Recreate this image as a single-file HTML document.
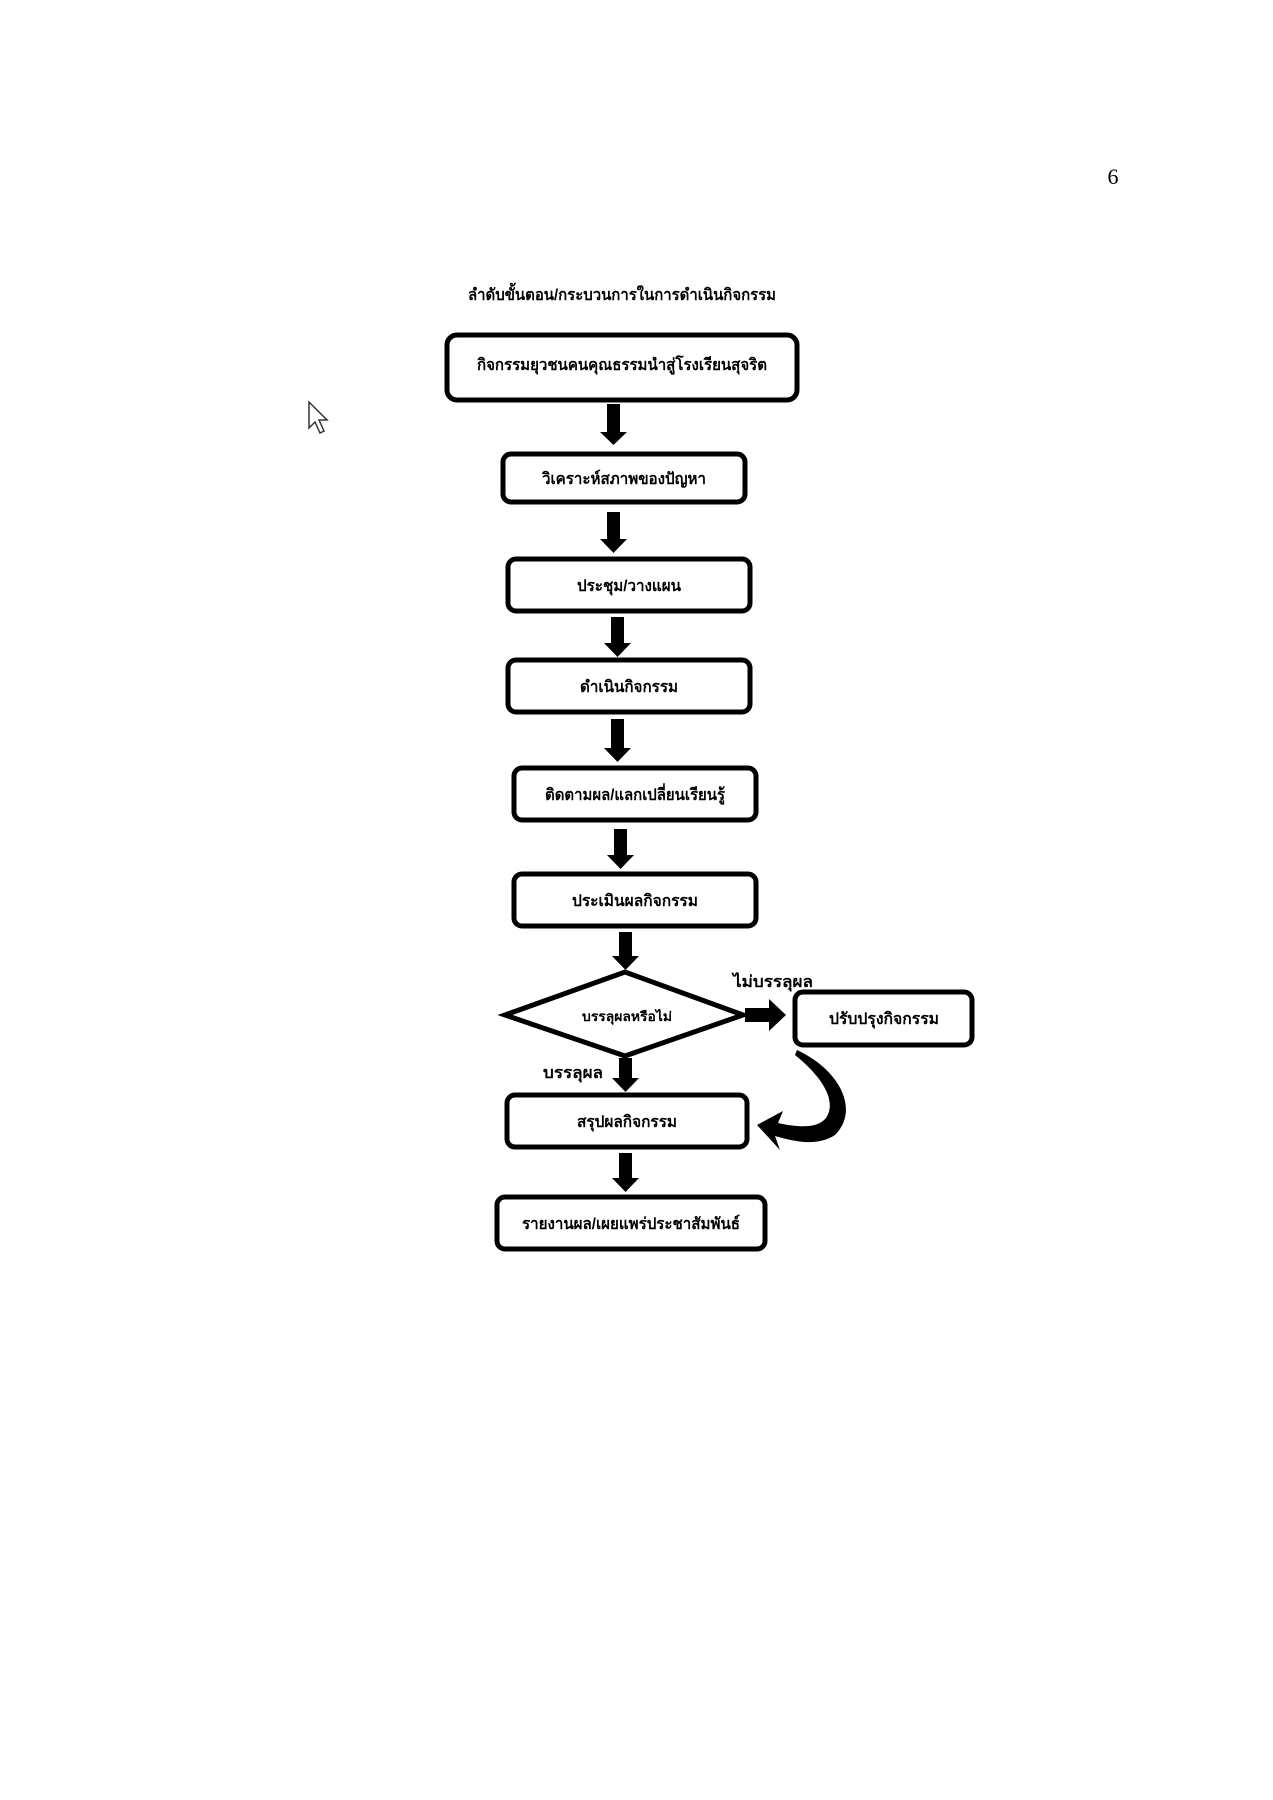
<!DOCTYPE html>
<html><head><meta charset="utf-8"><style>
html,body{margin:0;padding:0;background:#fff}
svg{display:block}
text{font-family:"Liberation Sans","DejaVu Sans",sans-serif;font-weight:bold;fill:#000}
</style></head><body>
<svg width="1273" height="1800" viewBox="0 0 1273 1800" xmlns="http://www.w3.org/2000/svg">
<text x="1113" y="184" font-size="22" text-anchor="middle" style="font-family:'Liberation Serif',serif;font-weight:normal">6</text>
<text x="622" y="300" font-size="16" text-anchor="middle" fill="#1a1a3a" textLength="308" lengthAdjust="spacingAndGlyphs">ลำดับขั้นตอน/กระบวนการในการดำเนินกิจกรรม</text>
<path d="M309,402 L309,428 L315,422 L320,433 L324,431 L319,420 L327,420 Z" fill="#fff" stroke="#333" stroke-width="1.5"/>
<g fill="#fff" stroke="#000" stroke-width="5">
<rect x="447" y="335" width="350" height="65" rx="10"/>
<rect x="503" y="454" width="242" height="48" rx="8"/>
<rect x="508" y="559" width="242" height="52" rx="8"/>
<rect x="508" y="660" width="242" height="52" rx="8"/>
<rect x="514" y="768" width="242" height="52" rx="8"/>
<rect x="514" y="874" width="242" height="52" rx="8"/>
<polygon points="505,1015 625,972 743,1015 625,1056"/>
<rect x="795" y="992" width="177" height="53" rx="8"/>
<rect x="507" y="1095" width="240" height="52" rx="8"/>
<rect x="497" y="1197" width="268" height="52" rx="8"/>
</g>
<g fill="#000">
<path d="M607,404h13v28h7l-13.5,13l-13.5,-13h7z"/>
<path d="M607,512h13v27h7l-13.5,14l-13.5,-14h7z"/>
<path d="M611,617h13v26h7l-13.5,14l-13.5,-14h7z"/>
<path d="M611,719h13v29h7l-13.5,14l-13.5,-14h7z"/>
<path d="M614,829h13v26h7l-13.5,14l-13.5,-14h7z"/>
<path d="M619,932h13v24h7l-13.5,14l-13.5,-14h7z"/>
<path d="M619,1058h13v20h7l-13.5,14l-13.5,-14h7z"/>
<path d="M619,1153h13v25h7l-13.5,14l-13.5,-14h7z"/>
<path d="M745,1008h24v-9l17,16l-17,16v-9h-24z"/>
<path d="M797,1050 C840,1070 860,1110 835,1135 C815,1148 790,1140 775,1136 L780,1150 L757,1125 L783,1111 L778,1123 C800,1128 818,1128 826,1118 C838,1100 820,1075 795,1055 Z"/>
</g>
<g font-size="16" text-anchor="middle">
<text x="622" y="370" textLength="290" lengthAdjust="spacingAndGlyphs">กิจกรรมยุวชนคนคุณธรรมนำสู่โรงเรียนสุจริต</text>
<text x="624" y="484" textLength="164" lengthAdjust="spacingAndGlyphs">วิเคราะห์สภาพของปัญหา</text>
<text x="629" y="591" textLength="104" lengthAdjust="spacingAndGlyphs">ประชุม/วางแผน</text>
<text x="629" y="692" textLength="98" lengthAdjust="spacingAndGlyphs">ดำเนินกิจกรรม</text>
<text x="635" y="800" textLength="180" lengthAdjust="spacingAndGlyphs">ติดตามผล/แลกเปลี่ยนเรียนรู้</text>
<text x="635" y="906" textLength="126" lengthAdjust="spacingAndGlyphs">ประเมินผลกิจกรรม</text>
<text x="627" y="1021" font-size="13" textLength="90" lengthAdjust="spacingAndGlyphs">บรรลุผลหรือไม่</text>
<text x="884" y="1024" textLength="110" lengthAdjust="spacingAndGlyphs">ปรับปรุงกิจกรรม</text>
<text x="627" y="1127" textLength="100" lengthAdjust="spacingAndGlyphs">สรุปผลกิจกรรม</text>
<text x="631" y="1229" textLength="218" lengthAdjust="spacingAndGlyphs">รายงานผล/เผยแพร่ประชาสัมพันธ์</text>
<text x="773" y="987" textLength="80" lengthAdjust="spacingAndGlyphs">ไม่บรรลุผล</text>
<text x="573" y="1078" textLength="60" lengthAdjust="spacingAndGlyphs">บรรลุผล</text>
</g>
</svg>
</body></html>
